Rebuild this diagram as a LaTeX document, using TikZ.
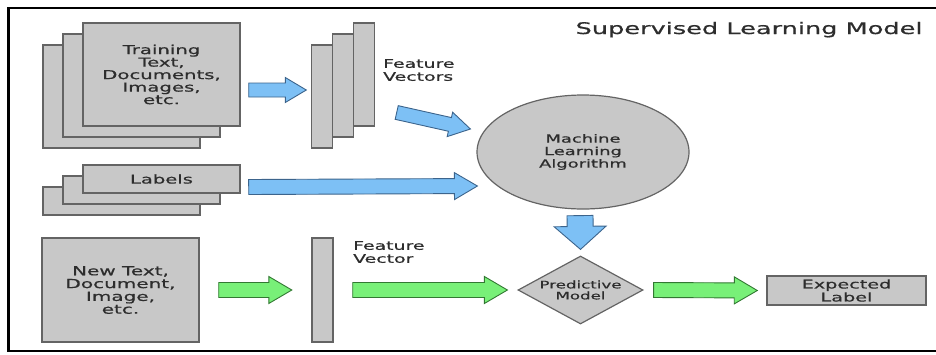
\documentclass[tikz,border=0pt]{standalone}
\usepackage{fontspec}
\setmainfont{DejaVu Sans}[FakeStretch=1.6, FakeBold=0.7]
\usetikzlibrary{positioning,shapes.geometric,calc}

\definecolor{boxgray}{RGB}{200,200,200}
\definecolor{edgegray}{RGB}{100,100,100}
\definecolor{txtgray}{RGB}{45,45,45}
\definecolor{arrowblue}{RGB}{125,192,245}
\definecolor{edgeblue}{RGB}{60,100,140}
\definecolor{arrowgreen}{RGB}{120,240,120}
\definecolor{edgegreen}{RGB}{50,120,50}

\tikzset{
  box/.style={draw=edgegray, fill=boxgray, line width=1.4pt, inner sep=0pt, text=txtgray, align=center},
  fat/.style n args={3}{to path={
      ($(\tikztostart)!#1!90:(\tikztotarget)$)
      -- ($(\tikztotarget)!#3!(\tikztostart)!#1!90:(\tikztotarget)$)
      -- ($(\tikztotarget)!#3!(\tikztostart)!#2!90:(\tikztotarget)$)
      -- (\tikztotarget)
      -- ($(\tikztotarget)!#3!(\tikztostart)!#2!-90:(\tikztotarget)$)
      -- ($(\tikztotarget)!#3!(\tikztostart)!#1!-90:(\tikztotarget)$)
      -- ($(\tikztostart)!#1!-90:(\tikztotarget)$) -- cycle}},
  bluefat/.style={draw=edgeblue, fill=arrowblue, line width=0.9pt, fat={7pt}{12.5pt}{21pt}},
  greenfat/.style={draw=edgegreen, fill=arrowgreen, line width=0.9pt, fat={7.5pt}{13.5pt}{23pt}},
  note/.style={text=txtgray, align=left, inner sep=0pt}
}

\begin{document}
\begin{tikzpicture}[x=1pt, y=-1pt]
  \useasboundingbox (0,0) rectangle (936,354);
  \draw[line width=2.5pt] (936,8) -- (8.5,8) -- (8.5,351) -- (936,351);

  \node[anchor=base east, text=txtgray, font=\fontsize{16}{18}\selectfont] (title) at (926,34) {Supervised Learning Model};

  % training stack
  \node[box, minimum width=157pt, minimum height=103pt] (train3) at (121.5,96.5) {};
  \node[box, minimum width=157pt, minimum height=103pt] (train2) at ([shift={(20,-11)}]train3) {};
  \node[box, minimum width=157pt, minimum height=103pt, font=\fontsize{12.3}{12.5}\selectfont] (train1) at ([shift={(20,-11)}]train2) {Training\\Text,\\Documents,\\Images,\\etc.};

  % feature vectors
  \node[box, minimum width=21pt, minimum height=103pt] (fvC) at (364,74.5) {};
  \node[box, minimum width=21pt, minimum height=103pt] (fvB) at ([shift={(-21,11)}]fvC) {};
  \node[box, minimum width=21pt, minimum height=103pt] (fvA) at ([shift={(-21,11)}]fvB) {};
  \node[note, anchor=north west, font=\fontsize{11.8}{13}\selectfont] (fvtext) at (383,59) {Feature\\Vectors};

  % labels stack
  \node[box, minimum width=157pt, minimum height=28pt] (lab3) at (121.5,201) {};
  \node[box, minimum width=157pt, minimum height=28pt] (lab2) at ([shift={(20,-11)}]lab3) {};
  \node[box, minimum width=157pt, minimum height=28pt, font=\fontsize{12.2}{13}\selectfont] (lab1) at ([shift={(20,-11)}]lab2) {Labels};

  \node[box, ellipse, minimum width=212pt, minimum height=114pt, line width=1.2pt, font=\fontsize{11.2}{12.5}\selectfont] (ml) at (583,152) {Machine\\Learning\\Algorithm};

  % prediction row
  \node[box, minimum width=157pt, minimum height=104pt, font=\fontsize{12.5}{12.8}\selectfont] (newtxt) at (120.5,290) {New Text,\\Document,\\Image,\\etc.};
  \node[box, minimum width=21pt, minimum height=104pt] (fv) at (322.5,290) {};
  \node[note, anchor=north west, font=\fontsize{11.8}{13}\selectfont] (fvtext2) at (353,241) {Feature\\Vector};
  \node[box, diamond, aspect=1.84, minimum width=125pt, minimum height=68pt, line width=1.2pt, font=\fontsize{10.4}{11}\selectfont] (pm) at (580.5,290) {Predictive\\Model};
  \node[box, minimum width=159pt, minimum height=29pt, font=\fontsize{12}{13}\selectfont] (exp) at (846.5,290.5) {Expected\\Label};

  \draw[bluefat] ([xshift=8pt,yshift=-15.5pt]train1.east) to ([xshift=-4.5pt,yshift=6.5pt]fvA.west);
  \draw[bluefat] ([xshift=21.5pt,yshift=-38pt]fvC.east) to ([xshift=-6pt,yshift=23pt]ml.west);
  \draw[bluefat, fat={7.5pt}{13.5pt}{23pt}] ([xshift=8pt,yshift=-8pt]lab1.east) to ([xshift=1pt,yshift=-34pt]ml.west);
  \draw[bluefat, fat={13pt}{26pt}{23pt}] ([xshift=-3pt,yshift=-6pt]ml.south) to ([yshift=6pt]pm.north);

  \draw[greenfat] ([xshift=19pt]newtxt.east) to ([xshift=-19.5pt]fv.west);
  \draw[greenfat] ([xshift=19pt]fv.east) to ([xshift=-10pt]pm.west);
  \draw[greenfat] ([xshift=10pt]pm.east) to ([xshift=-9pt]exp.west);
\end{tikzpicture}
\end{document}
